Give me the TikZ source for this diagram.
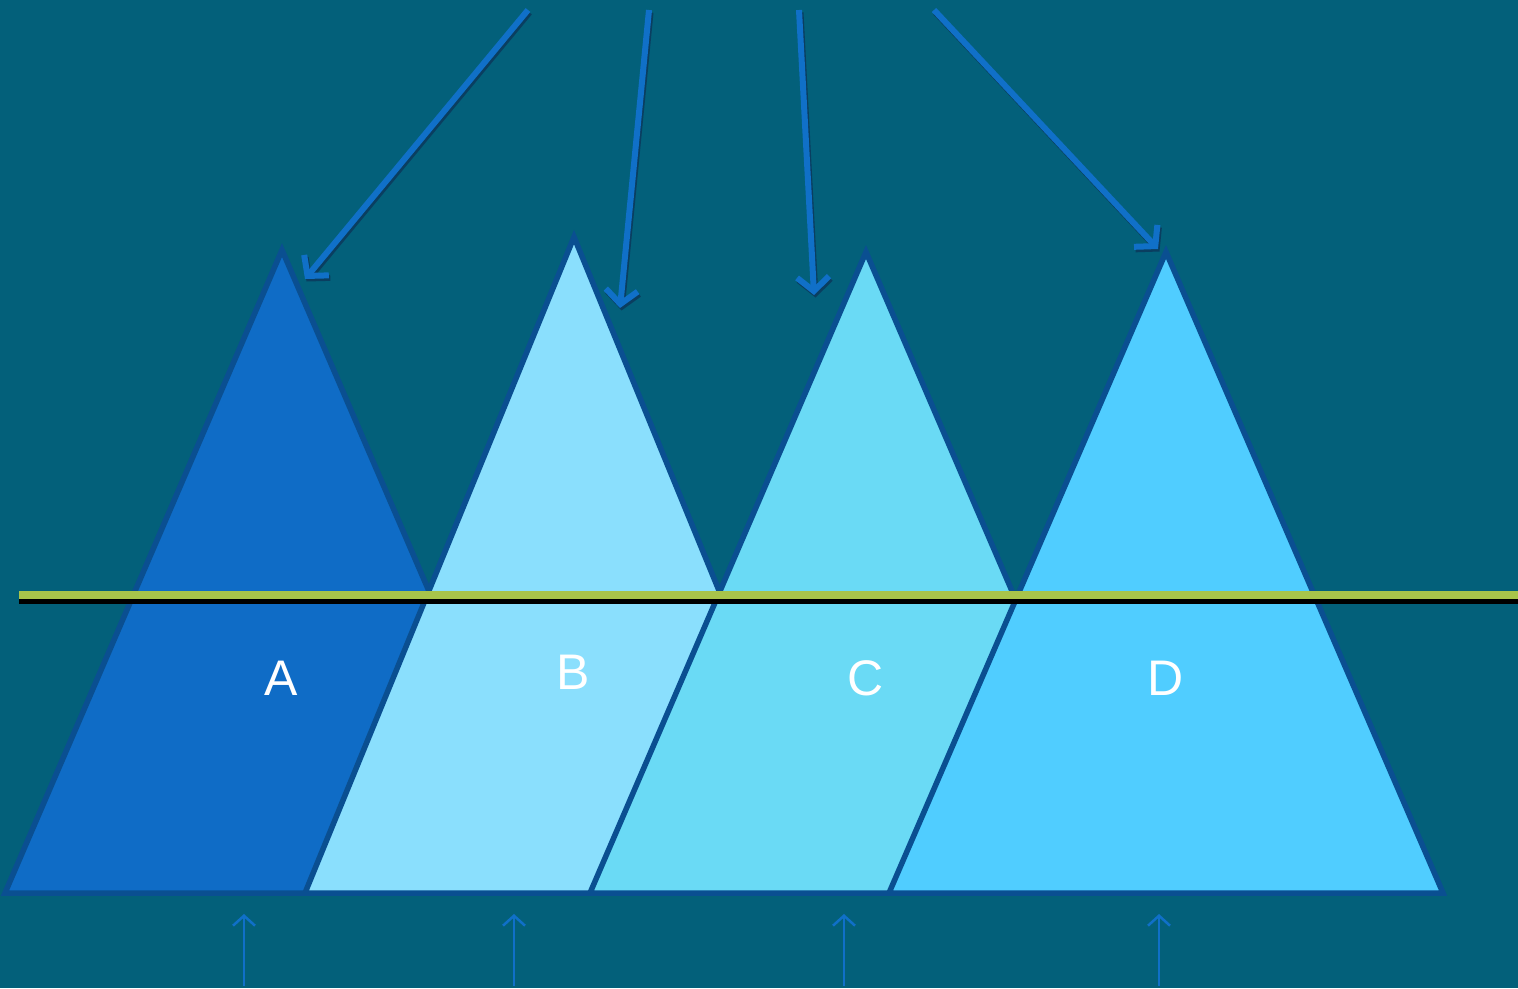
\documentclass[tikz,border=0pt]{standalone}
\usepackage{fontspec}
\setmainfont{Liberation Sans}
\usetikzlibrary{arrows.meta}
\definecolor{bg}{HTML}{03607A}
\definecolor{outl}{HTML}{0A4F91}
\definecolor{fa}{HTML}{0F6CC6}
\definecolor{fb}{HTML}{8ADFFD}
\definecolor{fc}{HTML}{6ADAF5}
\definecolor{fd}{HTML}{50CDFF}
\definecolor{arr}{HTML}{1070C8}
\definecolor{shad}{HTML}{0A3E60}
\definecolor{lgreen}{HTML}{A8C44A}
\tikzset{
  tri/.style={draw=outl,line width=5.5pt,line join=miter},
  bigarrow/.style={draw=arr,line width=6pt,-{Straight Barb[length=14pt,width=32pt]}},
  shadowarrow/.style={draw=shad,line width=6pt,-{Straight Barb[length=14pt,width=32pt]}},
  smallarrow/.style={draw=arr,line width=2.5pt,-{Straight Barb[length=10pt,width=22pt]}},
  lbl/.style={text=white,font=\fontsize{50}{60}\selectfont,inner sep=0pt},
}
\begin{document}
\begin{tikzpicture}[x=1pt,y=-1pt]
\fill[bg] (0,0) rectangle (1518,988);
\useasboundingbox (0,0) rectangle (1518,988);
% triangles
\coordinate (Atop) at (282,250); \coordinate (Bt) at (574,237);
\coordinate (Ct) at (866,252); \coordinate (Dt) at (1166,252);
\draw[tri,fill=fa] (5,893) -- (Atop) -- (559,893) -- cycle;
\draw[tri,fill=fb] (305,893) -- (Bt) -- (843,893) -- cycle;
\draw[tri,fill=fc] (590,893) -- (Ct) -- (1142,893) -- cycle;
\draw[tri,fill=fd] (889,893) -- (Dt) -- (1443,893) -- cycle;
% horizontal line
\coordinate (hl) at (19,597); \coordinate (hr) at (1518,597);
\draw[black,line width=6pt] ([shift={(0,3.5)}]hl) -- ([shift={(0,3.5)}]hr);
\draw[lgreen,line width=8pt] ([shift={(0,-2.5)}]hl) -- ([shift={(0,-2.5)}]hr);
% labels
\node[lbl] (A) at (281,678) {A};
\node[lbl] (B) at (573,672) {B};
\node[lbl] (C) at (866,678) {C};
\node[lbl] (D) at (1166,678) {D};
% top arrows
\coordinate (s1) at (528,10); \coordinate (e1) at (305,279);
\coordinate (s2) at (649,10); \coordinate (e2) at (620,308);
\coordinate (s3) at (799,10); \coordinate (e3) at (814,295);
\coordinate (s4) at (934,10); \coordinate (e4) at (1158,249);
\foreach \i in {1,2,3,4}{
  \draw[shadowarrow] ([shift={(1.5,2.5)}]s\i) -- ([shift={(1.5,2.5)}]e\i);
}
\foreach \i in {1,2,3,4}{
  \draw[bigarrow] (s\i) -- (e\i);
}
% bottom arrows
\foreach \x [count=\i] in {244,514,844,1159}{
  \coordinate (b\i) at (\x,986);
  \coordinate (u\i) at (\x,914);
  \draw[smallarrow] (b\i) -- (u\i);
}
\end{tikzpicture}
\end{document}
